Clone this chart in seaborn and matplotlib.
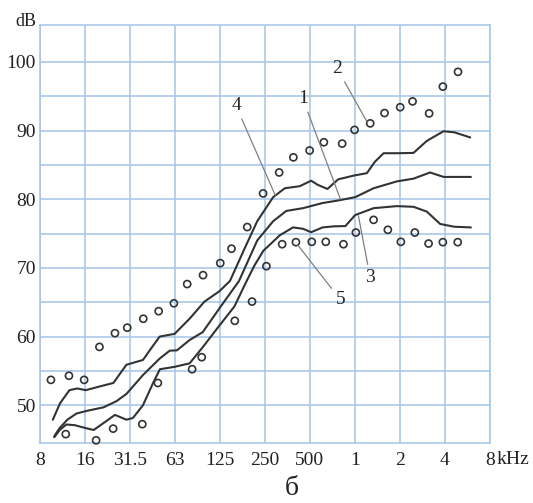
import numpy as np
import pandas as pd
import seaborn as sns
import matplotlib.pyplot as plt
from matplotlib.ticker import NullLocator

sns.set_style('white')
plt.rcParams['font.family'] = ['Liberation Serif', 'DejaVu Serif']

# octave grid, x in Hz (log2 scale)
freq_ticks = [8, 16, 32, 64, 128, 256, 512, 1024, 2048, 4096, 8192]
freq_labels = ['8', '16', '31.5', '63', '125', '250', '500', '1', '2', '4', '8']
db_ticks = [50, 60, 70, 80, 90, 100]
db_minor = [55, 65, 75, 85, 95]

# circles, series 2 (upper)
s2_hz = [9.47, 12.5, 15.8, 20.0, 25.4, 30.7, 39.3, 49.8, 63.0, 77.3, 98.7, 128.7, 153, 195,
         249, 319, 397, 510, 635, 842, 1019, 1297, 1617, 2058, 2491, 3216, 3973, 5018]
s2_db = [53.7, 54.3, 53.7, 58.5, 60.5, 61.3, 62.6, 63.7, 64.85, 67.65, 68.95, 70.7, 72.8, 75.95,
         80.85, 83.9, 86.1, 87.1, 88.3, 88.1, 90.1, 91.05, 92.55, 93.4, 94.25, 92.5, 96.4, 98.55]

# circles, series 5 (lower)
s5_hz = [11.9, 19.0, 24.7, 38.7, 49.2, 83.4, 96.7, 161, 210, 262, 334, 413, 527, 654, 859,
         1040, 1366, 1702, 2080, 2580, 3188, 3973, 4995]
s5_db = [45.8, 44.9, 46.6, 47.25, 53.25, 55.25, 57.0, 62.3, 65.1, 70.25, 73.45, 73.75, 73.8, 73.8,
         73.45, 75.15, 77.0, 75.55, 73.8, 75.15, 73.55, 73.75, 73.75]

# curve 4 (upper line)
c4_hz = [9.75, 10.9, 12.6, 14.2, 16.2, 19.75, 24.8, 30.3, 39.1, 45.6, 50.6, 63.7, 80.2, 100.9,
         126.9, 149.4, 188.8, 227.5, 290.6, 347.8, 437.5, 522, 577.7, 671, 792, 1009, 1232, 1393,
         1594, 1955, 2528, 3104, 4014, 4729, 6055]
c4_db = [47.9, 50.3, 52.2, 52.45, 52.2, 52.7, 53.25, 55.9, 56.6, 58.65, 60.0, 60.4, 62.6, 65.1,
         66.6, 68.1, 73.0, 76.8, 80.3, 81.6, 81.9, 82.7, 82.1, 81.5, 82.9, 83.45, 83.8, 85.45,
         86.7, 86.7, 86.75, 88.5, 89.9, 89.75, 89.0]

# curve 1 (middle line)
c1_hz = [9.97, 10.85, 12.2, 14.05, 16.57, 21.3, 26.0, 30.3, 39.1, 50.6, 59.0, 66.0, 80.2, 98.2,
         126.9, 171.8, 227.5, 290.6, 356, 460, 623, 781, 1029, 1366, 1955, 2528, 3265, 4014, 6117]
c1_db = [45.5, 46.7, 47.9, 48.8, 49.2, 49.7, 50.6, 51.65, 54.4, 56.8, 57.95, 58.0, 59.5, 60.65,
         64.1, 68.1, 74.0, 76.8, 78.3, 78.7, 79.45, 79.8, 80.3, 81.6, 82.6, 83.0, 83.9, 83.25, 83.25]

# curve 3 (lower line)
c3_hz = [9.97, 10.85, 12.0, 13.7, 15.7, 18.3, 21.9, 25.4, 30.3, 33.5, 39.1, 45.6, 50.8, 63.7,
         80.2, 98.2, 126.9, 160.2, 188.8, 217.2, 250, 322, 395, 460, 522, 623, 735, 885, 1029,
         1366, 1955, 2528, 3104, 3811, 4729, 6117]
c3_db = [45.35, 46.4, 47.2, 47.1, 46.75, 46.4, 47.6, 48.6, 47.9, 48.15, 50.0, 53.2, 55.25, 55.6,
         56.1, 58.45, 61.6, 64.4, 67.65, 70.3, 72.5, 74.75, 75.9, 75.7, 75.2, 75.9, 76.05, 76.1,
         77.7, 78.7, 79.0, 78.9, 78.2, 76.4, 76.0, 75.9]

# callout numbers
lab_text = ['4', '1', '2', '3', '5']
lab_hz = [164, 460, 781, 1297, 820]
lab_db = [93.6, 94.6, 99.0, 68.6, 65.35]
tip_hz = [300, 820, 1232, 1081, 426]
tip_db = [80.6, 80.0, 91.3, 77.6, 73.3]

curves = pd.concat([
    pd.DataFrame({'hz': c4_hz, 'db': c4_db, 'curve': 4}),
    pd.DataFrame({'hz': c1_hz, 'db': c1_db, 'curve': 1}),
    pd.DataFrame({'hz': c3_hz, 'db': c3_db, 'curve': 3}),
])
points = pd.concat([
    pd.DataFrame({'hz': s2_hz, 'db': s2_db, 'series': 2}),
    pd.DataFrame({'hz': s5_hz, 'db': s5_db, 'series': 5}),
])

grid_col = '#a3c5e8'
ink = '#333333'

fig, ax = plt.subplots(figsize=(5.33, 5.03), dpi=100)
fig.subplots_adjust(left=0.075, right=0.919, bottom=0.12, top=0.950)

ax.set_xscale('log', base=2)
ax.set_xlim(8, 8192)
ax.set_ylim(44.56, 105.35)

sns.lineplot(data=curves, x='hz', y='db', units='curve', estimator=None, sort=False,
             color=ink, lw=1.5, ax=ax)
for ln in ax.get_lines():
    ln.set_solid_joinstyle('round')
sns.scatterplot(data=points, x='hz', y='db', marker='o', s=26, facecolors='none',
                edgecolor=ink, linewidth=1.2, clip_on=False, zorder=3, ax=ax)

for t, x0, y0, x1, y1 in zip(lab_text, lab_hz, lab_db, tip_hz, tip_db):
    ax.annotate(t, xy=(x1, y1), xytext=(x0, y0), ha='center', va='center', fontsize=14,
                arrowprops=dict(arrowstyle='-', color='#808080', lw=0.9,
                                shrinkA=1, shrinkB=0))

ax.set_xticks(freq_ticks)
ax.set_xticklabels(freq_labels)
ax.xaxis.set_minor_locator(NullLocator())
ax.set_yticks(db_ticks)
ax.set_yticks(db_minor, minor=True)
ax.grid(True, which='major', axis='x', color=grid_col, lw=1.1)
ax.grid(True, which='both', axis='y', color=grid_col, lw=1.1)
ax.set_axisbelow(True)
ax.tick_params(which='both', length=0, labelsize=14, colors='#222222')
ax.tick_params(axis='x', pad=7)
ax.tick_params(axis='y', pad=3)
for sp in ax.spines.values():
    sp.set_color(grid_col)
    sp.set_linewidth(1.1)
ax.set_xlabel('')
ax.set_ylabel('')

fig.text(0.049, 0.958, 'dB', ha='center', va='center', fontsize=13, color='#222222')
fig.text(0.932, 0.0855, 'kHz', ha='left', va='center', fontsize=14, color='#222222')
fig.text(0.547, 0.003, 'б', ha='center', va='bottom', fontsize=20, color='#222222')

fig.savefig('out.png', dpi=100)
